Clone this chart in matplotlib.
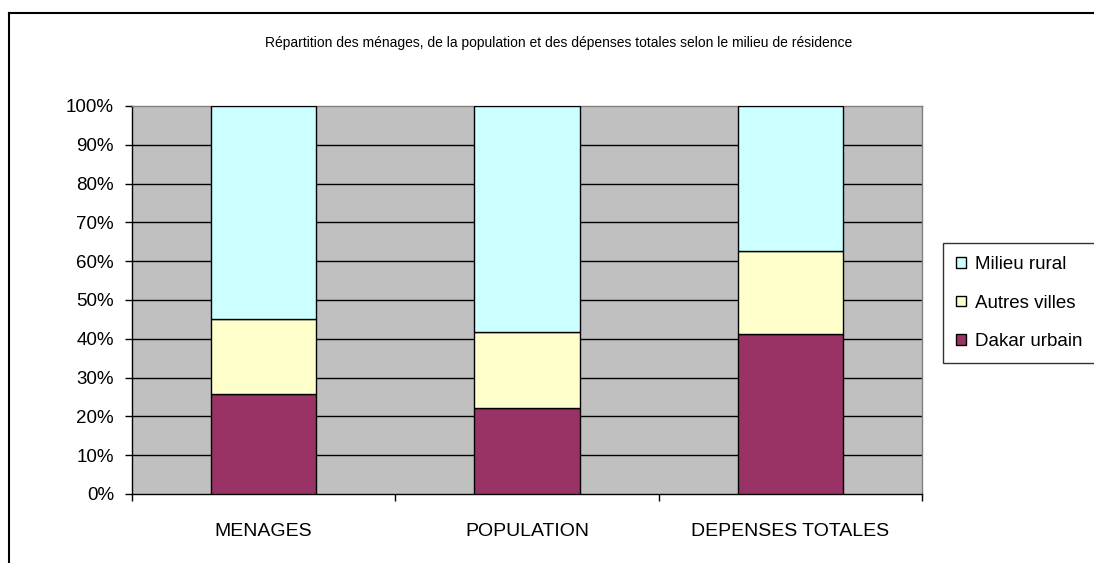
import matplotlib
matplotlib.use("Agg")
import matplotlib.pyplot as plt
from matplotlib.lines import Line2D
from matplotlib.patches import Patch
import numpy as np

plt.rcParams['font.family'] = ['Liberation Sans', 'DejaVu Sans']

categories = ["MENAGES", "POPULATION", "DEPENSES TOTALES"]
dakar_urbain = [25.8, 22.1, 41.2]
autres_villes = [19.4, 19.6, 21.5]
milieu_rural = [54.8, 58.3, 37.3]
series_names = ["Dakar urbain", "Autres villes", "Milieu rural"]
colors = ["#993366", "#FFFFCC", "#CCFFFF"]
yticks = [0, 10, 20, 30, 40, 50, 60, 70, 80, 90, 100]
title = "Répartition des ménages, de la population et des dépenses totales selon le milieu de résidence"

W, H = 1094, 563
fig = plt.figure(figsize=(W / 100, H / 100), dpi=100)
ax = fig.add_axes([132 / W, (H - 494) / H, 790 / W, 388 / H])
ax.set_facecolor("#C0C0C0")

x = np.arange(len(categories))
bottom = np.zeros(len(categories))
for name, vals, col in zip(series_names, [dakar_urbain, autres_villes, milieu_rural], colors):
    ax.bar(x, vals, bottom=bottom, width=0.4, color=col, edgecolor="black",
           linewidth=1.0, label=name, zorder=3)
    bottom += np.array(vals)

ax.set_xlim(-0.5, len(categories) - 0.5)
ax.set_ylim(0, 100)
ax.set_yticks(yticks)
ax.set_yticklabels([f"{v}%" for v in yticks], fontsize=13.5)
for v in yticks[1:-1]:
    ax.axhline(v, color="black", linewidth=1.0, zorder=1)

ax.set_xticks(np.arange(len(categories) + 1) - 0.5)
ax.set_xticklabels([])
ax.set_xticks(x, minor=True)
ax.set_xticklabels(categories, minor=True, fontsize=14)
ax.tick_params(axis="x", which="minor", length=0, pad=21)
ax.tick_params(axis="x", which="major", length=5, width=1, direction="out")
ax.tick_params(axis="y", length=5, width=1, direction="out", pad=8)

for s in ["left", "bottom"]:
    ax.spines[s].set_color("black")
    ax.spines[s].set_linewidth(1.0)
for s in ["top", "right"]:
    ax.spines[s].set_color("#808080")
    ax.spines[s].set_linewidth(1.0)

fig.text(559 / W, 1 - 43 / H, title, ha="center", va="center", fontsize=10)

handles = [Patch(facecolor=colors[i], edgecolor="black", linewidth=1.0, label=series_names[i])
           for i in [2, 1, 0]]
leg = fig.legend(handles=handles, loc="upper left", bbox_to_anchor=(943 / W, 1 - 243 / H),
                 fontsize=13.5, frameon=True, fancybox=False, edgecolor="black",
                 handlelength=0.5, handleheight=0.5, handletextpad=0.5, labelspacing=1.15,
                 borderpad=0.7, borderaxespad=0)
leg.get_frame().set_linewidth(1.0)

# outer chart frame (partially visible)
fig.add_artist(Line2D([9 / W, 9 / W], [0, 1 - 13 / H], color="black", linewidth=1.5,
                      transform=fig.transFigure))
fig.add_artist(Line2D([9 / W, 1], [1 - 13 / H, 1 - 13 / H], color="black", linewidth=1.5,
                      transform=fig.transFigure))

fig.savefig("out.png", dpi=100)
